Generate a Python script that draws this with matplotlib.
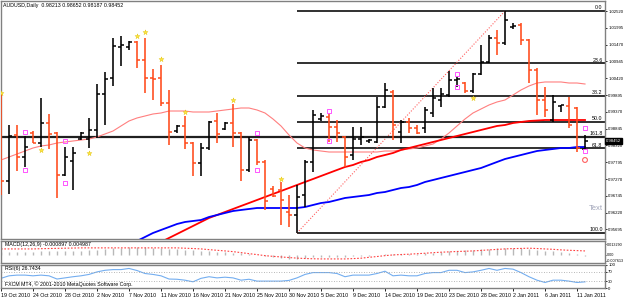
import matplotlib
matplotlib.use("Agg")
import matplotlib.pyplot as plt
from matplotlib import font_manager

# ---------------- data ----------------
date_labels = ["19 Oct 2010", "24 Oct 2010", "28 Oct 2010", "2 Nov 2010", "7 Nov 2010",
               "11 Nov 2010", "16 Nov 2010", "21 Nov 2010", "25 Nov 2010", "30 Nov 2010",
               "5 Dec 2010", "9 Dec 2010", "14 Dec 2010", "19 Dec 2010", "23 Dec 2010",
               "28 Dec 2010", "2 Jan 2011", "6 Jan 2011", "11 Jan 2011"]
date_bars = [0, 4, 8, 12, 16, 20, 24, 28, 32, 36, 40, 44, 48, 52, 56, 60, 64, 68, 72]

opens = [0.99739, 0.97208, 0.98645, 0.97958, 0.98708, 0.98395, 0.99020, 0.98708, 0.97395, 0.97833,
         0.98520, 0.98520, 0.98802, 0.99927, 1.00427, 1.01395, 1.01395, 1.01552, 1.00989, 1.00427,
         1.00427, 0.99645, 0.98770, 0.98927, 0.98395, 0.97770, 0.98239, 0.99083, 0.98833, 0.99020,
         0.98708, 0.97552, 0.98489, 0.97802, 0.96958, 0.96927, 0.96239, 0.96145, 0.96770, 0.97802,
         0.99145, 0.99208, 0.98895, 0.98583, 0.98020, 0.98520, 0.98458, 0.98427, 0.99520, 0.99989,
         0.98739, 0.99052, 0.98864, 0.98864, 0.99333, 0.99739, 0.99895, 1.00364, 1.00270, 1.00020,
         1.00552, 1.00927, 1.01677, 1.01520, 1.02020, 1.02083, 1.01614, 1.00677, 0.99739, 0.99114,
         0.99552, 0.99552, 0.99489, 0.98213]
highs = [0.99958, 0.98958, 0.98958, 0.98614, 0.98770, 0.99802, 0.99302, 0.98740, 0.98270, 0.98270,
         0.98739, 0.99177, 1.00239, 1.00614, 1.01677, 1.01739, 1.01583, 1.01583, 1.01677, 1.00708,
         1.00833, 1.00052, 0.98958, 0.99239, 0.98420, 0.98395, 0.99083, 0.99333, 0.99052, 0.99614,
         0.98740, 0.98583, 0.98520, 0.97864, 0.97052, 0.97177, 0.96770, 0.97083, 0.97864, 0.99427,
         0.99333, 0.99333, 0.99114, 0.98600, 0.98895, 0.98895, 0.98520, 0.99833, 1.00270, 1.00052,
         0.99114, 0.99177, 0.98958, 0.99520, 1.00114, 1.00114, 1.00645, 1.00489, 1.00302, 1.00583,
         1.01458, 1.01770, 1.01927, 1.02520, 1.02145, 1.02145, 1.01645, 1.00739, 1.00145, 0.99895,
         0.99583, 0.99833, 0.99520, 0.98652]
lows = [0.96770, 0.96802, 0.97520, 0.97645, 0.98395, 0.98270, 0.98208, 0.96677, 0.97364, 0.96927,
        0.98489, 0.98239, 0.98552, 0.98958, 1.00177, 1.00802, 1.01302, 1.00739, 0.99958, 0.99739,
        0.99552, 0.98333, 0.98708, 0.98208, 0.97364, 0.97364, 0.98177, 0.98395, 0.98802, 0.98270,
        0.97208, 0.97489, 0.97708, 0.96302, 0.96708, 0.95833, 0.95770, 0.95583, 0.96395, 0.97489,
        0.99083, 0.98427, 0.98427, 0.97645, 0.97864, 0.98333, 0.98395, 0.98395, 0.99489, 0.98489,
        0.98395, 0.98708, 0.98677, 0.98708, 0.99208, 0.99520, 0.99833, 1.00145, 0.99958, 0.99958,
        1.00520, 1.00895, 1.01145, 1.01458, 1.01958, 1.01458, 1.00270, 0.99270, 0.99208, 0.99052,
        0.99364, 0.98864, 0.98114, 0.98187]
closes = [0.97208, 0.98614, 0.97958, 0.98270, 0.98400, 0.99020, 0.98677, 0.97395, 0.97958, 0.98083,
          0.98708, 0.98802, 0.99927, 1.00395, 1.01427, 1.01458, 1.01552, 1.00989, 1.00427, 1.00395,
          0.99645, 0.98739, 0.98927, 0.98395, 0.97770, 0.98239, 0.99052, 0.98677, 0.99020, 0.98708,
          0.97552, 0.98489, 0.97802, 0.96583, 0.96739, 0.96614, 0.96145, 0.96708, 0.97802, 0.99270,
          0.99239, 0.98895, 0.98708, 0.97958, 0.98520, 0.98583, 0.98489, 0.99520, 1.00052, 0.98958,
          0.99052, 0.98864, 0.98708, 0.99427, 0.99802, 0.99927, 1.00364, 1.00395, 1.00020, 1.00552,
          1.00927, 1.01677, 1.01520, 1.02239, 1.02052, 1.01614, 1.00677, 0.99739, 0.99427, 0.99677,
          0.99577, 0.98958, 0.98239, 0.98452]

ma_fast = [0.97864, 0.97958, 0.98052, 0.98145, 0.98239, 0.98302, 0.98333, 0.98395, 0.98427, 0.98458,
           0.98489, 0.98520, 0.98583, 0.98677, 0.98770, 0.98927, 0.99083, 0.99177, 0.99239, 0.99302,
           0.99333, 0.99395, 0.99395, 0.99395, 0.99364, 0.99364, 0.99364, 0.99395, 0.99427, 0.99458,
           0.99489, 0.99489, 0.99427, 0.99333, 0.99145, 0.98927, 0.98645, 0.98395, 0.98239, 0.98177,
           0.98145, 0.98114, 0.98114, 0.98114, 0.98114, 0.98114, 0.98114, 0.98114, 0.98145, 0.98145,
           0.98177, 0.98208, 0.98239, 0.98302, 0.98364, 0.98520, 0.98708, 0.98927, 0.99145, 0.99333,
           0.99458, 0.99583, 0.99677, 0.99739, 0.99895, 1.00052, 1.00177, 1.00270, 1.00302, 1.00302,
           1.00302, 1.00270, 1.00270, 1.00239]
ma_mid_first_bar = 20
ma_mid = [0.95301, 0.95427, 0.95552, 0.95677, 0.95802, 0.95927, 0.96052, 0.96145, 0.96239, 0.96333,
          0.96427, 0.96520, 0.96614, 0.96708, 0.96802, 0.96895, 0.96989, 0.97083, 0.97177, 0.97270,
          0.97364, 0.97458, 0.97552, 0.97645, 0.97708, 0.97802, 0.97864, 0.97958, 0.98020, 0.98083,
          0.98177, 0.98239, 0.98302, 0.98364, 0.98427, 0.98489, 0.98552, 0.98614, 0.98677, 0.98739,
          0.98802, 0.98864, 0.98927, 0.98958, 0.99020, 0.99052, 0.99083, 0.99098, 0.99114, 0.99114,
          0.99114, 0.99114, 0.99114, 0.99114]
ma_slow_first_bar = 17
ma_slow = [0.95333, 0.95458, 0.95583, 0.95677, 0.95770, 0.95864, 0.95927, 0.95958, 0.95989, 0.96083,
           0.96145, 0.96208, 0.96270, 0.96302, 0.96333, 0.96364, 0.96364, 0.96364, 0.96364, 0.96364,
           0.96364, 0.96395, 0.96458, 0.96520, 0.96552, 0.96614, 0.96677, 0.96708, 0.96739, 0.96770,
           0.96833, 0.96864, 0.96927, 0.96989, 0.97020, 0.97083, 0.97177, 0.97239, 0.97302, 0.97364,
           0.97427, 0.97489, 0.97552, 0.97614, 0.97708, 0.97802, 0.97895, 0.97958, 0.98020, 0.98083,
           0.98145, 0.98177, 0.98208, 0.98239, 0.98239, 0.98270, 0.98270]

macd_hist = [0.00375, 0.00375, 0.00375, 0.00375, 0.00375, 0.005, 0.005, 0.005, 0.005, 0.005,
             0.005, 0.00625, 0.00625, 0.0075, 0.00875, 0.00875, 0.01, 0.01, 0.01, 0.00875,
             0.00875, 0.0075, 0.0075, 0.00625, 0.00625, 0.005, 0.005, 0.00375, 0.00375, 0.0025,
             0.0025, 0.00125, 0.0001, -0.00125, -0.0025, -0.00375, -0.005, -0.005, -0.00375, -0.0025,
             -0.0025, -0.0025, -0.0025, -0.0025, -0.00125, -0.00125, -0.00125, -0.0001, 0.00063, 0.00063,
             0.00063, 0.00063, 0.00125, 0.00188, 0.0025, 0.00375, 0.00438, 0.005, 0.00563, 0.00625,
             0.00688, 0.0075, 0.00813, 0.00875, 0.00875, 0.00813, 0.0075, 0.00625, 0.005, 0.00438,
             0.00375, 0.0025, 0.00125, -0.000897]
macd_signal = [0.0075, 0.0075, 0.0075, 0.0075, 0.0075, 0.0078, 0.0080, 0.0082, 0.0084, 0.0086,
               0.0088, 0.0088, 0.0088, 0.0088, 0.0088, 0.0088, 0.0088, 0.0088, 0.0088, 0.0088,
               0.0088, 0.0088, 0.0088, 0.0084, 0.0080, 0.0075, 0.0066, 0.0058, 0.0050, 0.0041,
               0.0029, 0.0016, 0.0004, -0.0009, -0.0018, -0.0025, -0.0033, -0.0040, -0.0045, -0.0048,
               -0.0050, -0.0050, -0.0050, -0.0050, -0.0046, -0.0041, -0.0030, -0.0020, -0.0009, 0.0,
               0.0005, 0.0009, 0.0015, 0.0021, 0.0028, 0.0034, 0.0038, 0.0043, 0.0046, 0.0050,
               0.0056, 0.0063, 0.0069, 0.0075, 0.0079, 0.0081, 0.0084, 0.0080, 0.0075, 0.0070,
               0.0063, 0.0058, 0.0054, 0.004987]

rsi = [42, 53, 56, 56, 53, 56, 53, 39, 44, 49,
       53, 59, 70, 77, 80, 80, 85, 76, 63, 59,
       53, 39, 38, 34, 27, 42, 49, 44, 47, 44,
       34, 38, 30, 30, 30, 30, 33, 44, 59, 67,
       67, 67, 63, 49, 56, 56, 56, 63, 73, 53,
       56, 53, 53, 63, 67, 67, 77, 77, 67, 70,
       77, 85, 77, 85, 82, 67, 49, 34, 24, 34,
       34, 30, 24, 26.7434]

price_ticks = [1.02520, 1.01995, 1.01470, 1.00945, 1.00420, 0.99895, 0.99370, 0.98845,
               0.98320, 0.97795, 0.97270, 0.96745, 0.96220, 0.95695]
last_price = 0.98452
macd_ticks = [0.0133, 0.0, -0.0076]
macd_tick_labels = ["0.013290", "0.00", "-0.007613"]
rsi_ticks = [100, 70, 30, 0]

fib_high = 1.02520
fib_low = 0.95583
fib_low_bar = 37
fib_high_bar = 63
fib_levels = [0.0, 23.6, 38.2, 50.0, 61.8, 100.0]
fib_names = ["0.0", "23.6", "38.2", "50.0", "61.8", "100.0"]
hline_level = 0.98583
hline_name = "161.8"

star_bars = [0, 5, 11, 17, 18, 20, 23, 29, 35, 59]
star_prices = [0.99958, 0.98177, 0.98083, 1.01739, 1.01864, 1.01020, 0.99364, 0.99739, 0.97270, 0.99802]
square_bars = [3, 3, 8, 8, 32, 32, 41, 41, 57, 57, 73, 73]
square_prices = [0.98739, 0.97552, 0.98458, 0.97145, 0.98708, 0.97552, 0.99395, 0.98458,
                 1.00552, 1.00145, 0.98864, 0.98145]
circle_bar = 73
circle_price = 0.97864
text_price = 0.96364

title = "AUDUSD,Daily  0.98213 0.98652 0.98187 0.98452"
macd_title = "MACD(12,26,9) -0.000897 0.004987"
rsi_title = "RSI(6) 26.7434"
copyright_text = "FXCM MT4, \u00a9 2001-2010 MetaQuotes Software Corp."

# ---------------- figure ----------------
names = {f.name for f in font_manager.fontManager.ttflist}
FONT = "Liberation Sans Narrow" if "Liberation Sans Narrow" in names else "Liberation Sans"
plt.rcParams["font.family"] = [FONT, "DejaVu Sans"]
FS = 4.3 if FONT == "Liberation Sans Narrow" else 3.8
FSA = 3.5 if FONT == "Liberation Sans Narrow" else 3.1

W, H = 625, 297
fig = plt.figure(figsize=(W / 100, H / 100), dpi=100)
fig.patch.set_facecolor("white")


def rect(x0, y0, x1, y1):
    return [x0 / W, 1 - y1 / H, (x1 - x0) / W, (y1 - y0) / H]


ax = fig.add_axes(rect(1, 1, 605, 239))
axm = fig.add_axes(rect(1, 241, 605, 263), sharex=ax)
axr = fig.add_axes(rect(1, 265, 605, 288), sharex=ax)
XMAX = 604 / 8.0

BEAR = "#FF4A1A"
BULL = "#000000"

n = len(closes)
for i in range(n):
    col = BULL if closes[i] >= opens[i] else BEAR
    ax.vlines(i, lows[i], highs[i], color=col, lw=1.15, zorder=4)
    ax.hlines(opens[i], i - 0.4, i, color=col, lw=1.1, zorder=4)
    ax.hlines(closes[i], i, i + 0.4, color=col, lw=1.1, zorder=4)

ax.plot(range(n), ma_fast, color="#FF7F7F", lw=0.8, zorder=3)
ax.plot(range(ma_mid_first_bar, ma_mid_first_bar + len(ma_mid)), ma_mid, color="#FF0000", lw=1.3, zorder=3)
ax.plot(range(ma_slow_first_bar, ma_slow_first_bar + len(ma_slow)), ma_slow, color="#0000FF", lw=1.3, zorder=3)

# fibonacci
for lev, name in zip(fib_levels, fib_names):
    p = fib_high - (fib_high - fib_low) * lev / 100.0
    ax.hlines(p, fib_low_bar, XMAX, color="#202020", lw=1.3, zorder=2)
    ax.text(XMAX - 0.3, p + 0.0002, name, ha="right", va="bottom", fontsize=FS, color="#000000", zorder=6)
ax.plot([fib_low_bar, fib_high_bar], [fib_low, fib_high], color="#FF6060", lw=0.8, ls=(0, (1, 1.5)), zorder=2)
ax.axhline(hline_level, color="#202020", lw=1.6, zorder=2)
ax.text(XMAX - 0.3, hline_level + 0.0002, hline_name, ha="right", va="bottom", fontsize=FS, zorder=6)

ax.scatter(star_bars, star_prices, marker="*", s=14, color="#FFE840", edgecolors="#E0C000", linewidths=0.3, zorder=5)
ax.scatter(square_bars, square_prices, marker="s", s=8, facecolors="none", edgecolors="#FF55FF", linewidths=0.7, zorder=5)
ax.scatter([circle_bar], [circle_price], marker="o", s=12, facecolors="none", edgecolors="#FF6060", linewidths=0.8, zorder=5)
ax.text(XMAX - 0.2, text_price, "Text", fontsize=5.5, color="#A0A4B8", ha="right", va="center", zorder=6)

ax.text(0.004, 0.992, title, transform=ax.transAxes, ha="left", va="top", fontsize=FS)

ax.set_xlim(0, XMAX)
ax.set_ylim(1.02864 - 239 / 3200, 1.02864 - 1 / 3200)
ax.yaxis.tick_right()
ax.set_yticks(price_ticks)
ax.set_yticklabels(["%.5f" % v for v in price_ticks])
ax.text(1.0015, last_price, "%.5f" % last_price, transform=ax.get_yaxis_transform(), ha="left", va="center",
        fontsize=FSA, color="white", zorder=10, clip_on=False,
        bbox=dict(boxstyle="square,pad=0.2", fc="black", ec="black"))

# MACD
axm.vlines(range(n), 0, macd_hist, color="#B8B8B8", lw=1.0)
axm.plot(range(n), macd_signal, color="#FF4040", lw=0.8, ls=(0, (1.5, 1.5)))
axm.set_ylim(-0.0101, 0.0174)
axm.yaxis.tick_right()
axm.set_yticks(macd_ticks)
axm.set_yticklabels(macd_tick_labels)
axm.text(0.006, 0.95, macd_title, transform=axm.transAxes, ha="left", va="top", fontsize=FS)

# RSI
axr.plot(range(n), rsi, color="#74AEF0", lw=0.8)
for lvl in (70, 30):
    axr.axhline(lvl, color="#A0A0A0", lw=0.6, ls=(0, (1, 2)))
axr.set_ylim(0, 100)
axr.yaxis.tick_right()
axr.set_yticks(rsi_ticks)
axr.set_yticklabels([str(v) for v in rsi_ticks])
axr.text(0.006, 0.97, rsi_title, transform=axr.transAxes, ha="left", va="top", fontsize=FS)
axr.text(0.006, 0.06, copyright_text, transform=axr.transAxes, ha="left", va="bottom", fontsize=FS)

for a in (ax, axm, axr):
    for s in a.spines.values():
        s.set_color("#808080")
        s.set_linewidth(1.0)
    a.tick_params(axis="y", labelsize=FSA, length=1.5, width=0.6, pad=0.8, colors="black")
    a.tick_params(axis="x", length=0)
    a.set_facecolor("white")
axm.tick_params(axis="y", labelsize=FSA * 0.88, length=1.0, pad=0.4)

plt.setp(ax.get_xticklabels(), visible=False)
plt.setp(axm.get_xticklabels(), visible=False)
axr.set_xticks(date_bars)
axr.set_xticklabels(date_labels, ha="left")
axr.tick_params(axis="x", labelsize=FS, length=2, width=0.6, pad=1.5)

fig.savefig("out.png", dpi=100, facecolor="white")
